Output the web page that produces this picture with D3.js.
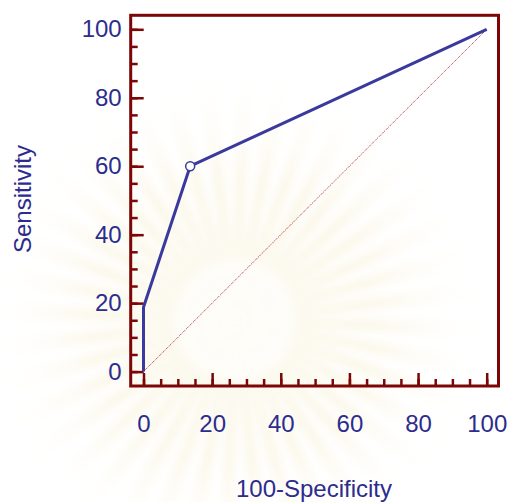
<!DOCTYPE html>
<html>
<head>
<meta charset="utf-8">
<script src="https://cdn.jsdelivr.net/npm/d3@7"></script>
<style>
  body { margin: 0; background: #fff; }
  svg text { font-family: "Liberation Sans", Arial, sans-serif; }
</style>
</head>
<body>
<svg id="chart" width="508" height="502"></svg>
<script>
// ROC curve points (100-Specificity, Sensitivity)
const fpr = [0, 0, 13.6, 100];
const tpr = [0, 18.8, 60, 100];
const cutPoint = [13.6, 60];
const majorTicks = [0, 20, 40, 60, 80, 100];
const minorTicks = d3.range(0, 101, 5);
const xTitle = '100-Specificity';
const yTitle = 'Sensitivity';

const svg = d3.select('#chart');

const frame = { left: 130.7, top: 15.3, right: 498.5, bottom: 386 };
const textColor = '#2c2c8e';
const frameColor = '#7c0606';
const lineColor = '#3a3a9e';

const x = d3.scaleLinear().domain([0, 100]).range([143.5, 486.7]);
const y = d3.scaleLinear().domain([0, 100]).range([371.6, 29.3]);

// faint blurred watermark behind the chart
const defs = svg.append('defs');
defs.append('filter').attr('id', 'blur')
  .attr('x', '-20%').attr('y', '-20%').attr('width', '140%').attr('height', '140%')
  .append('feGaussianBlur').attr('stdDeviation', 5);
const fade = defs.append('radialGradient').attr('id', 'fade')
  .attr('cx', 0).attr('cy', 0).attr('r', 260)
  .attr('gradientUnits', 'userSpaceOnUse');
fade.append('stop').attr('offset', '0%').attr('stop-color', '#f3e7b8').attr('stop-opacity', 1);
fade.append('stop').attr('offset', '55%').attr('stop-color', '#f6eed0').attr('stop-opacity', 0.8);
fade.append('stop').attr('offset', '100%').attr('stop-color', '#ffffff').attr('stop-opacity', 0);

const rayCount = 40;
const arc = d3.arc().innerRadius(0).outerRadius(260);
const wm = svg.append('g')
  .attr('transform', 'translate(235,320)')
  .attr('filter', 'url(#blur)')
  .attr('opacity', 0.6);
wm.selectAll('path')
  .data(d3.range(rayCount))
  .enter()
  .append('path')
  .attr('d', (d) => arc({
    startAngle: (d / rayCount) * 2 * Math.PI,
    endAngle: ((d + 0.5) / rayCount) * 2 * Math.PI,
  }))
  .style('fill', 'url(#fade)');
wm.append('circle')
  .attr('r', 60)
  .style('fill', '#ffffff')
  .attr('opacity', 0.6);

function styleAxis(g) {
  g.select('.domain').remove();
  g.selectAll('line').attr('stroke', frameColor).attr('stroke-width', 2.5);
  g.selectAll('text').attr('fill', textColor).attr('font-size', 24)
    .attr('font-family', '"Liberation Sans", Arial, sans-serif');
}

// minor ticks
svg.append('g')
  .attr('transform', `translate(${frame.left},0)`)
  .call(d3.axisLeft(y).tickValues(minorTicks).tickSize(-7).tickFormat(''))
  .call(styleAxis);

svg.append('g')
  .attr('transform', `translate(0,${frame.bottom})`)
  .call(d3.axisBottom(x).tickValues(minorTicks).tickSize(-7).tickFormat(''))
  .call(styleAxis);

// major ticks with labels
svg.append('g')
  .attr('transform', `translate(${frame.left},0)`)
  .call(d3.axisLeft(y).tickValues(majorTicks).tickSize(-13).tickPadding(9))
  .call(styleAxis);

svg.append('g')
  .attr('transform', `translate(0,${frame.bottom})`)
  .call(d3.axisBottom(x).tickValues(majorTicks).tickSize(-13).tickPadding(29))
  .call(styleAxis);

// frame
svg.append('rect')
  .attr('x', frame.left).attr('y', frame.top)
  .attr('width', frame.right - frame.left).attr('height', frame.bottom - frame.top)
  .attr('fill', 'none')
  .attr('stroke', frameColor)
  .attr('stroke-width', 3);

// reference diagonal
svg.append('line')
  .attr('x1', x(0)).attr('y1', y(0))
  .attr('x2', x(100)).attr('y2', y(100))
  .attr('stroke', '#a52a2a')
  .attr('stroke-width', 1)
  .attr('stroke-dasharray', '1,1');

// ROC curve
const line = d3.line().x((d, i) => x(fpr[i])).y((d, i) => y(tpr[i]));
svg.append('path')
  .datum(fpr)
  .attr('d', line)
  .attr('fill', 'none')
  .attr('stroke', lineColor)
  .attr('stroke-width', 3)
  .attr('stroke-linejoin', 'round');

svg.append('circle')
  .attr('cx', x(cutPoint[0])).attr('cy', y(cutPoint[1]))
  .attr('r', 4.5)
  .attr('fill', '#fff')
  .attr('stroke', lineColor)
  .attr('stroke-width', 1.5);

// axis titles
svg.append('text')
  .attr('x', 314).attr('y', 497)
  .attr('text-anchor', 'middle')
  .attr('font-size', 24)
  .attr('fill', textColor)
  .text(xTitle);

svg.append('text')
  .attr('transform', 'translate(31,199) rotate(-90)')
  .attr('text-anchor', 'middle')
  .attr('font-size', 24)
  .attr('fill', textColor)
  .text(yTitle);
</script>
</body>
</html>
